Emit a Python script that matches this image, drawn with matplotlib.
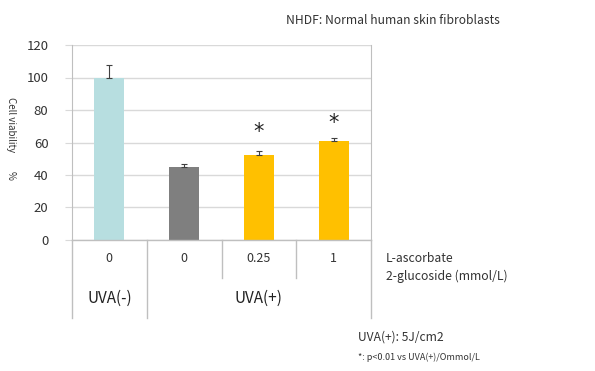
import matplotlib
matplotlib.use("Agg")
import matplotlib.pyplot as plt

plt.rcParams['font.family'] = ['Noto Sans CJK JP', 'DejaVu Sans']

doses = ["0", "0", "0.25", "1"]
groups = ["UVA(-)", "UVA(+)"]
group_spans = [(0, 0), (1, 3)]
values = [100, 45, 52.5, 61]
errors = [8, 1.5, 2.5, 2]
colors = ["#b7dee0", "#7f7f7f", "#ffc000", "#ffc000"]
sig = [False, False, True, True]
yticks = [0, 20, 40, 60, 80, 100, 120]

W, H = 595, 371
fig = plt.figure(figsize=(W/100, H/100), dpi=100)
ax = fig.add_axes([72/W, 1-240/H, (371-72)/W, (240-45)/H])

x = list(range(len(values)))
ax.bar(x, values, width=0.4, color=colors, zorder=3)
ax.errorbar(x, values, yerr=[[0]*len(errors), errors], fmt='none', ecolor='#404040',
            elinewidth=0.8, capsize=2.5, capthick=0.8, zorder=4)
star_y = [None, None, 66.2, 72.0]
for xi, s, sy in zip(x, sig, star_y):
    if s:
        ax.text(xi, sy, "*", ha='center', va='center', fontsize=15,
                color='#222222', family='DejaVu Sans')

ax.set_xlim(-0.5, len(values) - 0.5)
ax.set_ylim(0, 120)
ax.set_yticks(yticks)
ax.set_yticklabels([str(t) for t in yticks], fontsize=9.5, color='#333333')
ax.yaxis.grid(True, color='#d9d9d9', linewidth=1, zorder=0)
ax.tick_params(axis='y', length=5, color='#d9d9d9', pad=12)
ax.set_xticks([])
for sp in ['top', 'bottom']:
    ax.spines[sp].set_visible(False)
ax.spines['left'].set_color('#bfbfbf')
ax.spines['right'].set_color('#bfbfbf')

# category table below the axes
lc = '#bfbfbf'
axh = 240 - 45
r1 = -(278 - 240) / axh
r2 = -(318 - 240) / axh
trans = ax.get_xaxis_transform()
ax.plot([-0.5, len(values) - 0.5], [0, 0], color=lc, lw=1, transform=trans, clip_on=False, zorder=5)
for edge in [-0.5, len(values) - 0.5]:
    ax.plot([edge, edge], [0, r2], color=lc, lw=1, transform=trans, clip_on=False)
for (a, b) in group_spans[:-1]:
    ax.plot([b + 0.5, b + 0.5], [0, r2], color=lc, lw=1, transform=trans, clip_on=False)
for (a, b) in group_spans:
    for k in range(a, b):
        ax.plot([k + 0.5, k + 0.5], [0, r1], color=lc, lw=1, transform=trans, clip_on=False)
for xi, d in zip(x, doses):
    ax.text(xi, r1 / 2, d, ha='center', va='center', fontsize=9, color='#333333', transform=trans)
for (a, b), g in zip(group_spans, groups):
    ax.text((a + b) / 2, (r1 + r2) / 2, g, ha='center', va='center', fontsize=11, color='#222222', transform=trans)

fig.text(386/W, 1-258/H, "L-ascorbate", fontsize=8.8, va='center', ha='left', color='#333333')
fig.text(386/W, 1-276/H, "2-glucoside (mmol/L)", fontsize=8.8, va='center', ha='left', color='#333333')
fig.text(286/W, 1-21/H, "NHDF: Normal human skin fibroblasts", fontsize=8.7, va='center', ha='left', color='#333333')
fig.text(358/W, 1-337/H, "UVA(+): 5J/cm2", fontsize=8.7, va='center', ha='left', color='#333333')
fig.text(358/W, 1-357/H, "*: p<0.01 vs UVA(+)/Ommol/L", fontsize=6.5, va='center', ha='left', color='#333333')

fig.text(11/W, 1-125/H, "Cell viability", rotation=270, fontsize=7, va='center', ha='center', color='#333333')
fig.text(11/W, 1-175/H, "%", rotation=270, fontsize=7, va='center', ha='center', color='#333333')

fig.savefig("out.png", dpi=100)
